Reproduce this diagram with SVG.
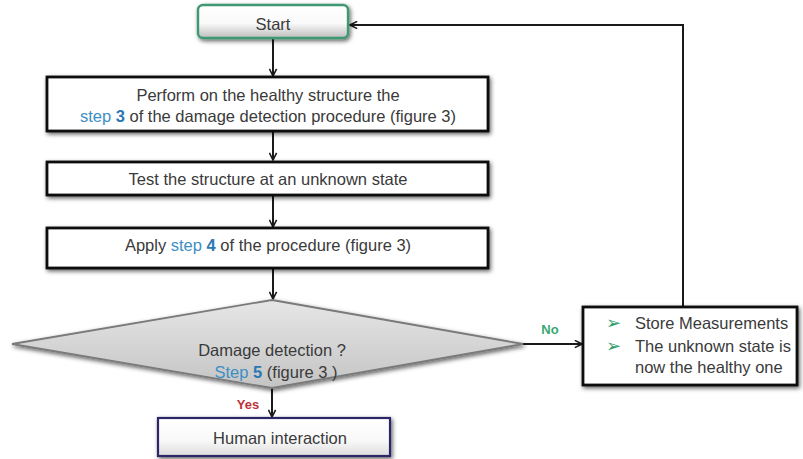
<svg xmlns="http://www.w3.org/2000/svg" width="803" height="459" viewBox="0 0 803 459">
  <defs>
    <filter id="sh" x="-10%" y="-30%" width="120%" height="160%">
      <feDropShadow dx="1.5" dy="2" stdDeviation="2" flood-color="#000" flood-opacity="0.6"/>
    </filter>
    <linearGradient id="gStart" x1="0" y1="0" x2="0" y2="1">
      <stop offset="0" stop-color="#ffffff"/>
      <stop offset="0.55" stop-color="#fafafa"/>
      <stop offset="1" stop-color="#bdbdbd"/>
    </linearGradient>
    <linearGradient id="gDia" x1="0" y1="0" x2="0" y2="1">
      <stop offset="0" stop-color="#e6e6e6"/>
      <stop offset="1" stop-color="#c4c4c4"/>
    </linearGradient>
    <linearGradient id="gHum" x1="0" y1="0" x2="0" y2="1">
      <stop offset="0" stop-color="#ffffff"/>
      <stop offset="0.6" stop-color="#f8f8f8"/>
      <stop offset="1" stop-color="#dcdcdc"/>
    </linearGradient>
    <marker id="arr" viewBox="0 0 10 10" refX="9" refY="5" markerWidth="9" markerHeight="9" markerUnits="userSpaceOnUse" orient="auto">
      <path d="M1,1 L9,5 L1,9" fill="none" stroke="#1a1a1a" stroke-width="1.8"/>
    </marker>
    <style>
      text { font-family: "Liberation Sans", Arial, sans-serif; font-size: 16.5px; fill: #3a3a3a; }
      .c { text-anchor: middle; }
      .box { fill: #ffffff; stroke: #111111; stroke-width: 2.8; filter: url(#sh); }
      .blue { fill: #3d8ec4; }
      .bb { fill: #2a78b3; font-weight: bold; }
      .conn { fill: none; stroke: #1a1a1a; stroke-width: 2; marker-end: url(#arr); }
      .lbl { font-size: 13px; font-weight: bold; }
      .bul { font-family: "DejaVu Sans", sans-serif; font-size: 18px; fill: #2e9e6c; }
    </style>
  </defs>

  <g id="connectors">
    <path class="conn" d="M273,38 V76"/>
    <path class="conn" d="M273,131 V160"/>
    <path class="conn" d="M273,195 V227"/>
    <path class="conn" d="M273,268 V299"/>
    <path class="conn" d="M272,388 V417"/>
    <path class="conn" d="M520,344 H582"/>
    <path class="conn" d="M683,306 V25 H350"/>
    <text class="lbl c" x="550" y="334" style="fill:#3aa873">No</text>
    <text class="lbl c" x="248" y="409" style="fill:#c0303a">Yes</text>
  </g>

  <g id="start">
    <rect x="198" y="5" width="150" height="33" rx="5" fill="url(#gStart)" stroke="#3f9873" stroke-width="2.4" filter="url(#sh)"/>
    <text class="c" x="273" y="30">Start</text>
  </g>

  <g id="step3">
    <rect class="box" x="47" y="77" width="441" height="54"/>
    <text class="c" x="268" y="101">Perform on the healthy structure the</text>
    <text class="c" x="268" y="122"><tspan class="blue">step </tspan><tspan class="bb">3</tspan> of the damage detection procedure (figure 3)</text>
  </g>

  <g id="test">
    <rect class="box" x="47" y="162" width="441" height="33"/>
    <text class="c" x="268" y="185">Test the structure at an unknown state</text>
  </g>

  <g id="step4">
    <rect class="box" x="47" y="228" width="441" height="40"/>
    <text class="c" x="268" y="251">Apply <tspan class="blue">step </tspan><tspan class="bb">4</tspan> of the procedure (figure 3)</text>
  </g>

  <g id="decision">
    <polygon points="272,300 523,344 272,388 12,344" fill="url(#gDia)" stroke="#7a7a7a" stroke-width="1.8" filter="url(#sh)"/>
    <text class="c" x="272" y="356">Damage detection ?</text>
    <text class="c" x="276" y="378"><tspan class="blue">Step </tspan><tspan class="bb">5</tspan> (figure 3 )</text>
  </g>

  <g id="human">
    <rect x="158" y="418" width="232" height="38" fill="url(#gHum)" stroke="#2b2868" stroke-width="2.2" filter="url(#sh)"/>
    <text class="c" x="280" y="444">Human interaction</text>
  </g>

  <g id="store">
    <rect class="box" x="583" y="307" width="214" height="78"/>
    <text class="bul" x="606" y="329">➢</text>
    <text x="635" y="329">Store Measurements</text>
    <text class="bul" x="606" y="352">➢</text>
    <text x="635" y="352">The unknown state is</text>
    <text x="635" y="373">now the healthy one</text>
  </g>
</svg>
